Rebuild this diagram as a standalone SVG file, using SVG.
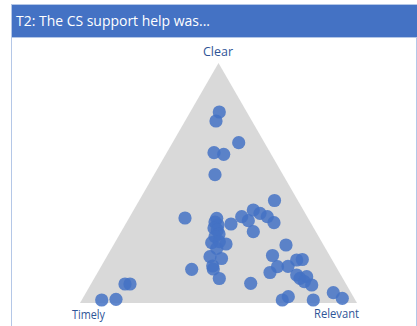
<svg xmlns="http://www.w3.org/2000/svg" width="417" height="326" viewBox="0 0 417 326">
<style>
.lbl{font-family:"Open Sans","Liberation Sans",sans-serif;font-size:13px;fill:#2F5597}
.ttl{font-family:"Open Sans","Liberation Sans",sans-serif;font-size:14px;fill:#ffffff}
.d{fill:#4472C4;fill-opacity:0.85}
</style>
<rect x="0" y="0" width="417" height="326" fill="#ffffff"/>
<g id="panel">
<rect x="11.5" y="4.5" width="405" height="330" fill="#ffffff" stroke="#B4C7E7" stroke-width="1"/>
<rect x="12" y="5" width="405" height="32" fill="#4472C4"/>
<line x1="12" y1="37.5" x2="417" y2="37.5" stroke="#B4C7E7" stroke-width="1"/>
<text class="ttl" x="16" y="26" textLength="194" lengthAdjust="spacingAndGlyphs">T2: The CS support help was...</text>
</g>
<g id="triangle">
<polygon points="218.5,63 80,303 357,303" fill="#D9D9D9"/>
</g>
<g id="labels">
<text id="clear" class="lbl" x="218" y="56" text-anchor="middle" textLength="30" lengthAdjust="spacingAndGlyphs">Clear</text>
<text id="timely" class="lbl" x="72" y="319" textLength="33" lengthAdjust="spacingAndGlyphs">Timely</text>
<text id="relevant" class="lbl" x="314" y="318" textLength="45" lengthAdjust="spacingAndGlyphs">Relevant</text>
</g>
<g id="points">
<circle class="d" cx="219.3" cy="112" r="6.6"/>
<circle class="d" cx="216" cy="121" r="6.6"/>
<circle class="d" cx="238.7" cy="142.7" r="6.6"/>
<circle class="d" cx="214" cy="152.7" r="6.6"/>
<circle class="d" cx="223.7" cy="154.3" r="6.6"/>
<circle class="d" cx="215" cy="174.7" r="6.6"/>
<circle class="d" cx="274.5" cy="200.5" r="6.6"/>
<circle class="d" cx="185" cy="218" r="6.6"/>
<circle class="d" cx="216.7" cy="218.3" r="6.6"/>
<circle class="d" cx="215" cy="222" r="6.6"/>
<circle class="d" cx="218" cy="225" r="6.6"/>
<circle class="d" cx="214" cy="228" r="6.6"/>
<circle class="d" cx="217.3" cy="230" r="6.6"/>
<circle class="d" cx="219" cy="234" r="6.6"/>
<circle class="d" cx="215" cy="236.7" r="6.6"/>
<circle class="d" cx="211.7" cy="242.7" r="6.6"/>
<circle class="d" cx="219.3" cy="241.7" r="6.6"/>
<circle class="d" cx="226" cy="244" r="6.6"/>
<circle class="d" cx="216.7" cy="248.3" r="6.6"/>
<circle class="d" cx="210" cy="256.7" r="6.6"/>
<circle class="d" cx="221.5" cy="258.5" r="6.6"/>
<circle class="d" cx="212.7" cy="266" r="6.6"/>
<circle class="d" cx="213.3" cy="269" r="6.6"/>
<circle class="d" cx="219.3" cy="278.5" r="6.6"/>
<circle class="d" cx="191.7" cy="269.3" r="6.6"/>
<circle class="d" cx="231" cy="224" r="6.6"/>
<circle class="d" cx="241.7" cy="216.7" r="6.6"/>
<circle class="d" cx="248.3" cy="220.7" r="6.6"/>
<circle class="d" cx="253.3" cy="210" r="6.6"/>
<circle class="d" cx="260" cy="213.3" r="6.6"/>
<circle class="d" cx="267.3" cy="216.7" r="6.6"/>
<circle class="d" cx="274" cy="222.7" r="6.6"/>
<circle class="d" cx="253.3" cy="231.7" r="6.6"/>
<circle class="d" cx="286" cy="245" r="6.6"/>
<circle class="d" cx="272.5" cy="255.5" r="6.6"/>
<circle class="d" cx="277.5" cy="266.7" r="6.6"/>
<circle class="d" cx="270" cy="272.5" r="6.6"/>
<circle class="d" cx="288" cy="266.3" r="6.6"/>
<circle class="d" cx="296.7" cy="260" r="6.6"/>
<circle class="d" cx="302.3" cy="259.5" r="6.6"/>
<circle class="d" cx="296.7" cy="275" r="6.6"/>
<circle class="d" cx="300" cy="278.3" r="6.6"/>
<circle class="d" cx="306.7" cy="276.7" r="6.6"/>
<circle class="d" cx="304.3" cy="281.7" r="6.6"/>
<circle class="d" cx="311.7" cy="285" r="6.6"/>
<circle class="d" cx="250.7" cy="283.3" r="6.6"/>
<circle class="d" cx="282.3" cy="300" r="6.6"/>
<circle class="d" cx="288.3" cy="296.7" r="6.6"/>
<circle class="d" cx="313.3" cy="300" r="6.6"/>
<circle class="d" cx="333.3" cy="292.7" r="6.6"/>
<circle class="d" cx="342.3" cy="298.3" r="6.6"/>
<circle class="d" cx="125" cy="284" r="6.6"/>
<circle class="d" cx="130" cy="284" r="6.6"/>
<circle class="d" cx="101.7" cy="300" r="6.6"/>
<circle class="d" cx="116" cy="299.3" r="6.6"/>
</g>
</svg>
